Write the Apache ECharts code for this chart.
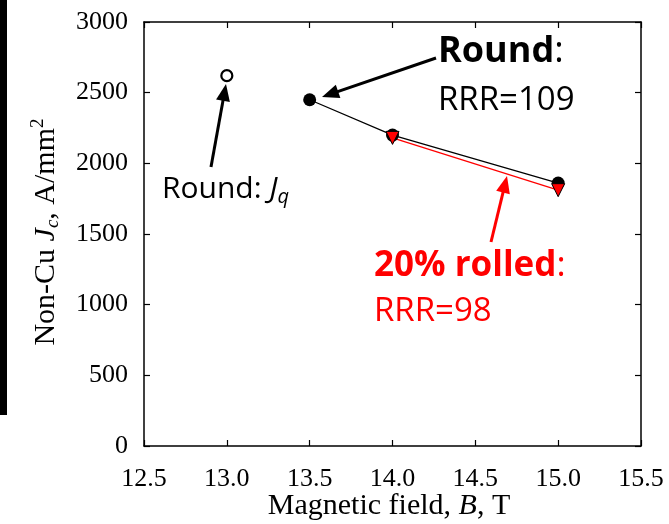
<!DOCTYPE html>
<html>
<head>
<meta charset="utf-8">
<script src="https://cdn.jsdelivr.net/npm/echarts@6/dist/echarts.min.js"></script>
<style>
  html, body { margin: 0; padding: 0; background: #fff; }
  #chart { width: 669px; height: 524px; }
</style>
</head>
<body>
<div id="chart"></div>
<script>
var fieldRound = [13.5, 14.0, 15.0];
var jcRound = [2450, 2200, 1860];
var fieldRolled = [14.0, 15.0];
var jcRolled = [2180, 1810];
var fieldJq = [13.0];
var jqRound = [2620];
var xTicks = [12.5, 13.0, 13.5, 14.0, 14.5, 15.0, 15.5];
var yTicks = [0, 500, 1000, 1500, 2000, 2500, 3000];

function pairs(xs, ys) {
    return xs.map(function (x, i) { return [x, ys[i]]; });
}

// arrow as a line plus filled head
function arrow(x1, y1, x2, y2, color) {
    var dx = x2 - x1, dy = y2 - y1;
    var len = Math.sqrt(dx * dx + dy * dy);
    var ux = dx / len, uy = dy / len;
    var hl = 17, hw = 7;
    var bx = x2 - ux * hl, by = y2 - uy * hl;
    return {
        type: 'group',
        children: [
            { type: 'line', shape: { x1: x1, y1: y1, x2: bx + ux * 2, y2: by + uy * 2 },
              style: { stroke: color, lineWidth: 3 } },
            { type: 'polygon',
              shape: { points: [[x2, y2], [bx - uy * hw, by + ux * hw], [bx + uy * hw, by - ux * hw]] },
              style: { fill: color } }
        ]
    };
}

var serif = 'Liberation Serif';
var sans = 'Open Sans';

var myChart = echarts.init(document.getElementById('chart'));
var option = {
    backgroundColor: '#fff',
    animation: false,
    grid: { left: 144, right: 28, top: 22, bottom: 78, show: false },
    xAxis: [
        {
            type: 'value', min: xTicks[0], max: xTicks[xTicks.length - 1], interval: 0.5,
            axisLine: { lineStyle: { color: '#000', width: 1.5 } },
            axisTick: { inside: true, length: 6, lineStyle: { color: '#000', width: 1.2 } },
            axisLabel: {
                margin: 20, color: '#000', fontFamily: serif, fontSize: 26,
                formatter: function (v) { return v.toFixed(1); }
            },
            splitLine: { show: false }
        },
        {
            type: 'value', position: 'top', min: xTicks[0], max: xTicks[xTicks.length - 1], interval: 0.5,
            axisLine: { onZero: false, lineStyle: { color: '#000', width: 1.5 } },
            axisTick: { inside: true, length: 6, lineStyle: { color: '#000', width: 1.2 } },
            axisLabel: { show: false },
            splitLine: { show: false }
        }
    ],
    yAxis: [
        {
            type: 'value', min: yTicks[0], max: yTicks[yTicks.length - 1], interval: 500,
            axisLine: { show: true, onZero: false, lineStyle: { color: '#000', width: 1.5 } },
            axisTick: { show: true, inside: true, length: 6, lineStyle: { color: '#000', width: 1.2 } },
            axisLabel: {
                margin: 16, color: '#000', fontFamily: serif, fontSize: 26,
                formatter: function (v) { return String(v); }
            },
            splitLine: { show: false }
        },
        {
            type: 'value', position: 'right', min: yTicks[0], max: yTicks[yTicks.length - 1], interval: 500,
            axisLine: { show: true, onZero: false, lineStyle: { color: '#000', width: 1.5 } },
            axisTick: { show: true, inside: true, length: 6, lineStyle: { color: '#000', width: 1.2 } },
            axisLabel: { show: false },
            splitLine: { show: false }
        }
    ],
    series: [
        {
            name: 'Round', type: 'line', data: pairs(fieldRound, jcRound),
            symbol: 'circle', symbolSize: 13,
            itemStyle: { color: '#000' },
            lineStyle: { color: '#000', width: 1.3 }
        },
        {
            name: '20% rolled', type: 'line', data: pairs(fieldRolled, jcRolled),
            symbol: 'triangle', symbolSize: 13, symbolRotate: 180,
            itemStyle: { color: '#ff0000', borderColor: '#000', borderWidth: 1 },
            lineStyle: { color: '#ff0000', width: 1.3 }
        },
        {
            name: 'Round Jq', type: 'scatter', data: pairs(fieldJq, jqRound),
            symbol: 'circle', symbolSize: 11,
            itemStyle: { color: '#fff', borderColor: '#000', borderWidth: 2.2, opacity: 1 }
        }
    ],
    graphic: [
        { type: 'rect', shape: { x: 0, y: 0, width: 7, height: 415 }, style: { fill: '#000' } },
        {
            type: 'text', x: 46, y: 232, rotation: Math.PI / 2,
            style: {
                text: '{n|Non-Cu }{i|J}{s|c}{n|, A/mm}{p|2}',
                align: 'center', verticalAlign: 'middle',
                rich: {
                    n: { fontFamily: serif, fontSize: 30, fill: '#000' },
                    i: { fontFamily: serif, fontSize: 30, fontStyle: 'italic', fill: '#000' },
                    s: { fontFamily: serif, fontSize: 19, fontStyle: 'italic', fill: '#000', padding: [13, 0, 0, 0] },
                    p: { fontFamily: serif, fontSize: 19, fill: '#000', padding: [0, 0, 15, 0] }
                }
            }
        },
        {
            type: 'text', x: 389, y: 506,
            style: {
                text: '{n|Magnetic field, }{i|B}{n|, T}',
                align: 'center', verticalAlign: 'middle',
                rich: {
                    n: { fontFamily: serif, fontSize: 30, fill: '#000' },
                    i: { fontFamily: serif, fontSize: 30, fontStyle: 'italic', fill: '#000' }
                }
            }
        },
        {
            type: 'text', x: 438, y: 52,
            style: {
                text: '{b|Round}{n|:}', verticalAlign: 'middle',
                rich: {
                    b: { fontFamily: sans, fontSize: 36, fontWeight: 'bold', fill: '#000' },
                    n: { fontFamily: sans, fontSize: 36, fill: '#000' }
                }
            }
        },
        {
            type: 'text', x: 438, y: 101,
            style: { text: 'RRR=109', verticalAlign: 'middle', fontFamily: sans, fontSize: 33, fill: '#000' }
        },
        {
            type: 'text', x: 162, y: 189,
            style: {
                text: '{n|Round: }{i|J}{s|q}', verticalAlign: 'middle',
                rich: {
                    n: { fontFamily: sans, fontSize: 30, fill: '#000' },
                    i: { fontFamily: sans, fontSize: 30, fontStyle: 'italic', fill: '#000' },
                    s: { fontFamily: sans, fontSize: 20, fontStyle: 'italic', fill: '#000', padding: [16, 0, 0, 0] }
                }
            }
        },
        {
            type: 'text', x: 374, y: 266,
            style: {
                text: '{b|20% rolled}{n|:}', verticalAlign: 'middle',
                rich: {
                    b: { fontFamily: sans, fontSize: 35, fontWeight: 'bold', fill: '#ff0000' },
                    n: { fontFamily: sans, fontSize: 35, fill: '#ff0000' }
                }
            }
        },
        {
            type: 'text', x: 374, y: 312,
            style: { text: 'RRR=98', verticalAlign: 'middle', fontFamily: sans, fontSize: 33, fill: '#ff0000' }
        },
        arrow(436, 58, 322, 97, '#000'),
        arrow(211, 167, 226, 84, '#000'),
        arrow(491, 242, 507, 176, '#ff0000')
    ]
};
myChart.setOption(option);
window.onresize = function () {
    myChart.resize();
};
</script>
</body>
</html>
